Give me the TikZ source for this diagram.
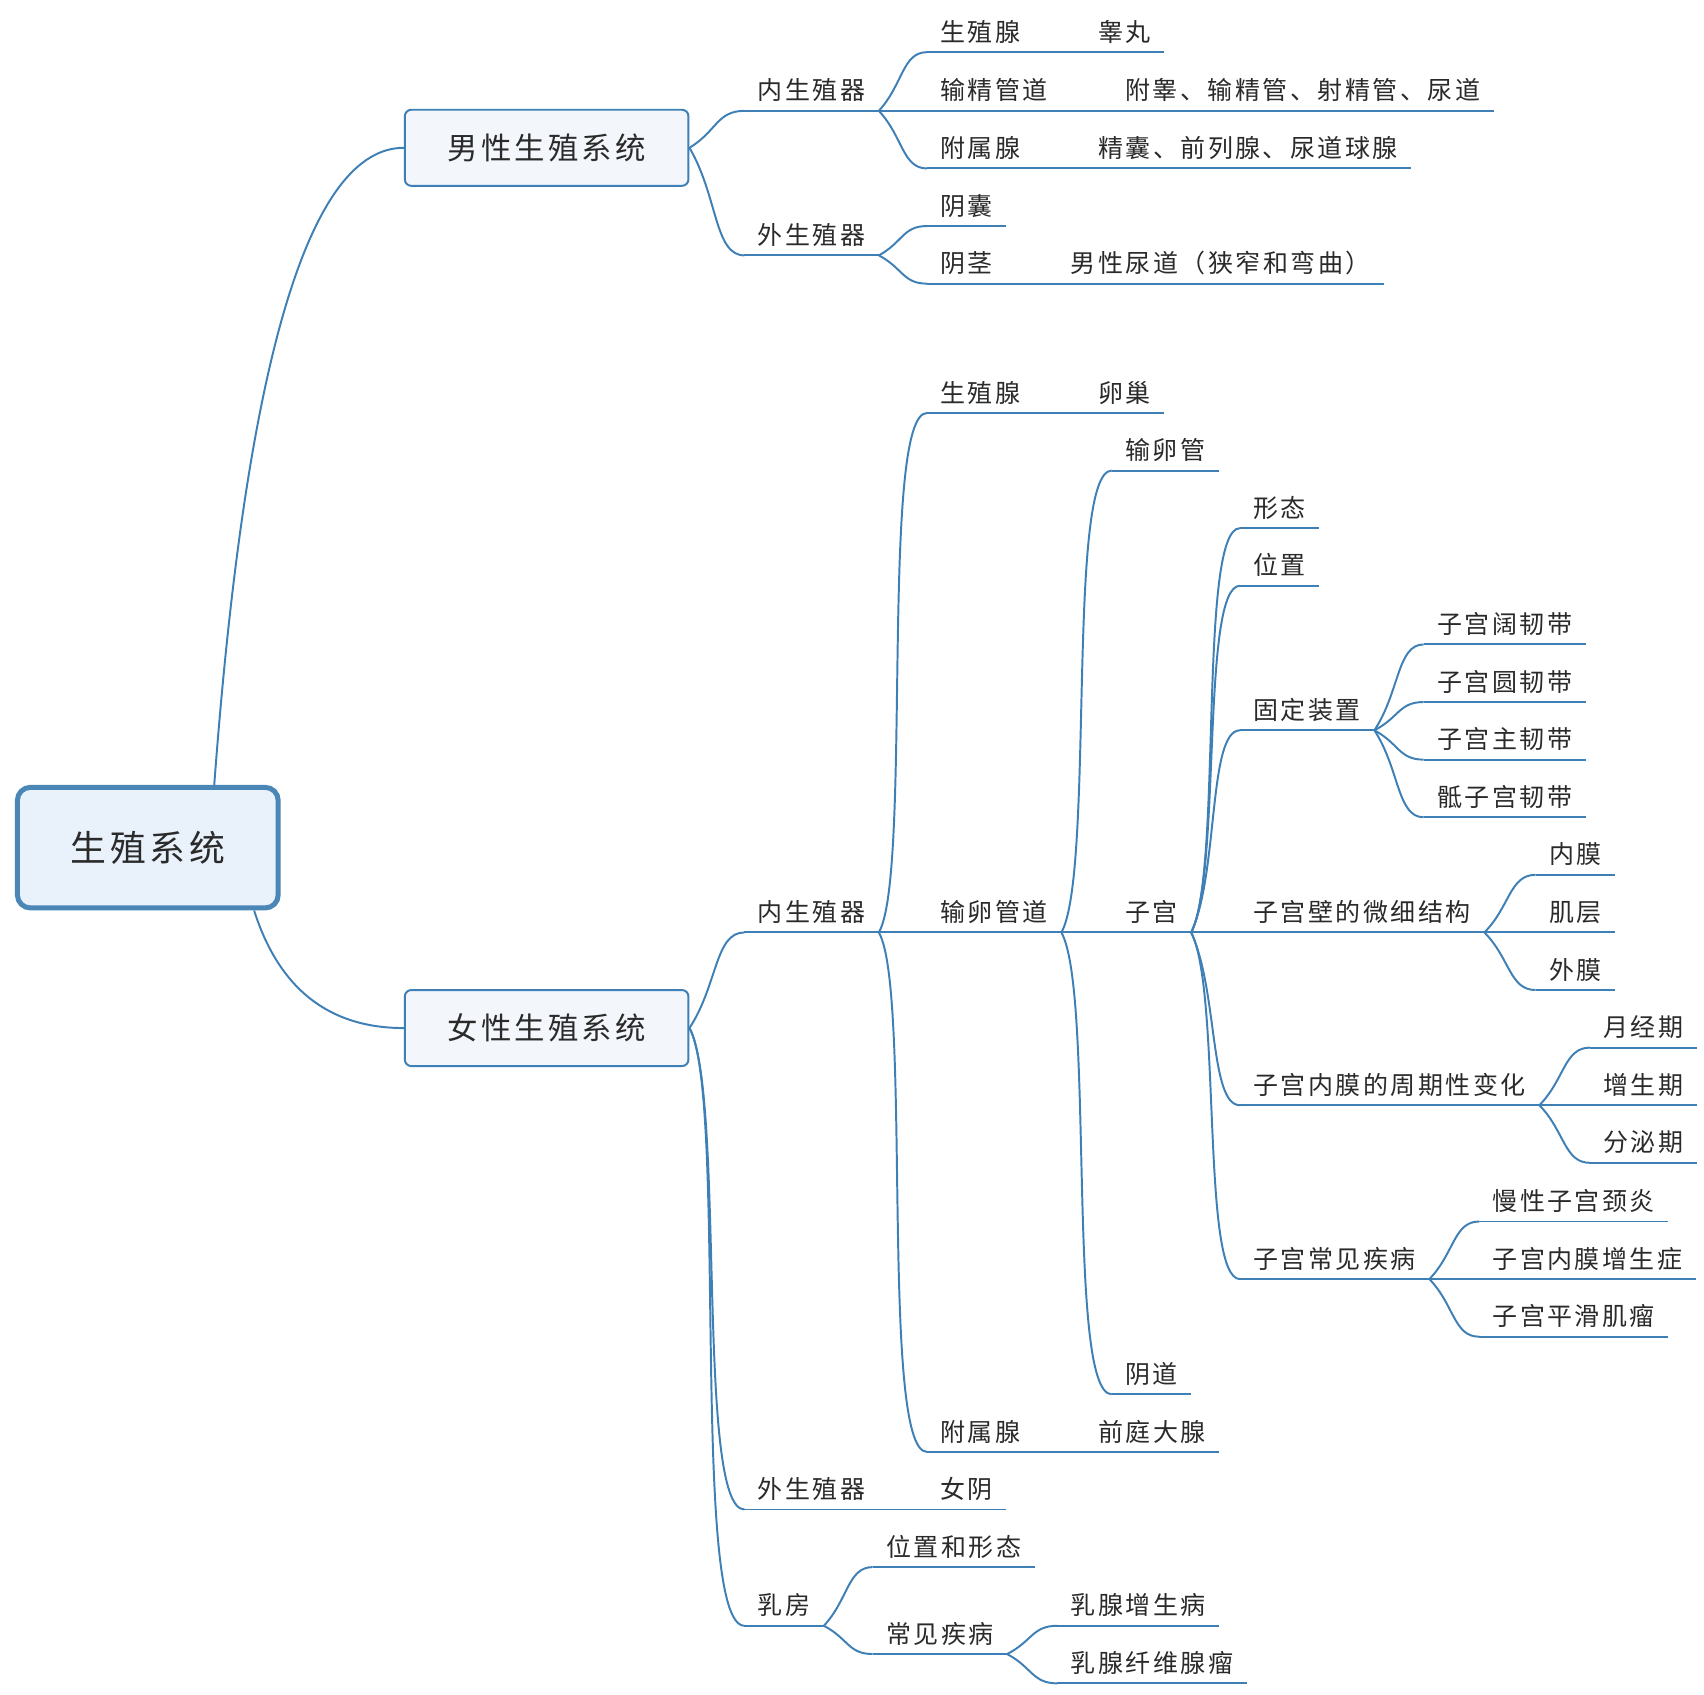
\documentclass[tikz,border=0pt]{standalone}
\usepackage{fontspec}
\setmainfont{Noto Sans CJK SC}[LetterSpace=10]
\usetikzlibrary{calc}

\definecolor{bluramo}{HTML}{3E7FB5}
\definecolor{testo}{HTML}{2A2A2A}
\definecolor{fondoradice}{HTML}{E9F1FB}
\definecolor{bordoradice}{HTML}{4A86B6}
\definecolor{fondosistema}{HTML}{F3F7FC}

\tikzset{
  linea/.style={draw=bluramo, line width=0.9pt},
  voce/.style={anchor=south west, inner xsep=6pt, inner ysep=4.8pt, text depth=0pt,
    font=\fontsize{11.5}{14}\selectfont, text=testo},
  radice/.style={draw=bordoradice, line width=2.3pt, fill=fondoradice, rounded corners=6pt,
    minimum width=120pt, minimum height=55.5pt, font=\fontsize{16.5}{20}\selectfont, text=testo},
  sistema/.style={draw=bluramo, line width=0.9pt, fill=fondosistema, rounded corners=3pt,
    minimum width=130.5pt, minimum height=35pt, font=\fontsize{14}{17}\selectfont, text=testo}
}

% ramo dalla radice: curva larga
\newcommand\tronco[2]{\draw[linea] let \p1=(#1), \p2=(#2) in
  (\p1) .. controls ({\x1+(\x2-\x1)/6},{\y1+2*(\y2-\y1)/3}) and ({(\x1+\x2)/2},\y2) .. (\p2);}
% ramo curvo dal padre al figlio (piu' ripido se il salto e' lungo)
\newcommand\ramo[2]{\draw[linea] let \p1=(#1), \p2=(#2),
  \n1={abs(\y2-\y1)/(abs(\x2-\x1)+0.01)},
  \n2={min(0.45,1.2/(\n1+0.001))},
  \n3={max(0,0.5-0.05*max(0,\n1-1))},
  \n4={min(0.7,0.5+0.02*max(0,\n1-1))} in
  (\p1) .. controls ({\x1+\n4*(\x2-\x1)},{\y1+\n2*(\y2-\y1)})
           and ({\x1+\n3*(\x2-\x1)},\y2) .. (\p2);}

\begin{document}
\begin{tikzpicture}[x=0.5pt, y=-0.5pt]
  \useasboundingbox (0,0) rectangle (1568,1559);

  % radice e sistemi
  \node[radice] (root) at (136,780) {生殖系统};
  \node[sistema] (male) at (503,136) {男性生殖系统};
  \node[sistema] (female) at (503,946) {女性生殖系统};

  % sistema maschile
  \node[voce] (m_in) at (685,102) {内生殖器};
  \node[voce] (m_out) at (685,235) {外生殖器};
  \node[voce] (m_gland) at (853,48) {生殖腺};
  \node[voce] (m_testis) at (998,48) {睾丸};
  \node[voce] (m_duct) at (853,102) {输精管道};
  \node[voce] (m_ductc) at (1023,102) {附睾、输精管、射精管、尿道};
  \node[voce] (m_acc) at (853,155) {附属腺};
  \node[voce] (m_accc) at (998,155) {精囊、前列腺、尿道球腺};
  \node[voce] (m_scrot) at (853,208) {阴囊};
  \node[voce] (m_penis) at (853,261) {阴茎};
  \node[voce] (m_ureth) at (973,261) {男性尿道（狭窄和弯曲）};

  % sistema femminile
  \node[voce] (f_in) at (685,858) {内生殖器};
  \node[voce] (f_out) at (685,1389) {外生殖器};
  \node[voce] (f_vulva) at (853,1389) {女阴};
  \node[voce] (f_breast) at (685,1496) {乳房};
  \node[voce] (f_gland) at (853,380) {生殖腺};
  \node[voce] (f_ovary) at (998,380) {卵巢};
  \node[voce] (f_duct) at (853,858) {输卵管道};
  \node[voce] (f_acc) at (853,1336) {附属腺};
  \node[voce] (f_vest) at (998,1336) {前庭大腺};
  \node[voce] (f_tube) at (1023,433) {输卵管};
  \node[voce] (f_uterus) at (1023,858) {子宫};
  \node[voce] (f_vagina) at (1023,1283) {阴道};

  % utero
  \node[voce] (u_shape) at (1141,486) {形态};
  \node[voce] (u_pos) at (1141,539) {位置};
  \node[voce] (u_fix) at (1141,672) {固定装置};
  \node[voce] (u_wall) at (1141,858) {子宫壁的微细结构};
  \node[voce] (u_cycle) at (1141,1017) {子宫内膜的周期性变化};
  \node[voce] (u_dis) at (1141,1177) {子宫常见疾病};
  \node[voce] (x_broad) at (1310,593) {子宫阔韧带};
  \node[voce] (x_round) at (1310,646) {子宫圆韧带};
  \node[voce] (x_card) at (1310,699) {子宫主韧带};
  \node[voce] (x_sacro) at (1310,752) {骶子宫韧带};
  \node[voce] (w_endo) at (1413,805) {内膜};
  \node[voce] (w_myo) at (1413,858) {肌层};
  \node[voce] (w_sero) at (1413,911) {外膜};
  \node[voce] (c_mens) at (1463,964) {月经期};
  \node[voce] (c_prol) at (1463,1017) {增生期};
  \node[voce] (c_secr) at (1463,1070) {分泌期};
  \node[voce] (d_cerv) at (1361,1124) {慢性子宫颈炎};
  \node[voce] (d_hyper) at (1361,1177) {子宫内膜增生症};
  \node[voce] (d_myoma) at (1361,1230) {子宫平滑肌瘤};

  % mammella
  \node[voce] (b_pos) at (803,1442) {位置和形态};
  \node[voce] (b_dis) at (803,1522) {常见疾病};
  \node[voce] (b_hyper) at (973,1496) {乳腺增生病};
  \node[voce] (b_fibro) at (973,1549) {乳腺纤维腺瘤};

  % sottolineature
  \foreach \n in {m_in,m_out,m_gland,m_testis,m_duct,m_ductc,m_acc,m_accc,m_scrot,m_penis,m_ureth,
    f_in,f_out,f_vulva,f_breast,f_gland,f_ovary,f_duct,f_acc,f_vest,f_tube,f_uterus,f_vagina,
    u_shape,u_pos,u_fix,u_wall,u_cycle,u_dis,x_broad,x_round,x_card,x_sacro,w_endo,w_myo,w_sero,
    c_mens,c_prol,c_secr,d_cerv,d_hyper,d_myoma,b_pos,b_dis,b_hyper,b_fibro}
    \draw[linea] (\n.south west) -- (\n.south east);

  % rami
  \tronco{$(root.north west)!0.75!(root.north east)$}{male.west}
  \tronco{$(root.south west)!0.9!(root.south east)$}{female.west}
  \foreach \b in {m_in,m_out} \ramo{male.east}{\b.south west};
  \foreach \b in {f_in,f_out,f_breast} \ramo{female.east}{\b.south west};
  \foreach \a/\b in {m_in/m_gland,m_in/m_duct,m_in/m_acc,m_gland/m_testis,m_duct/m_ductc,m_acc/m_accc,
    m_out/m_scrot,m_out/m_penis,m_penis/m_ureth,
    f_in/f_gland,f_in/f_duct,f_in/f_acc,f_gland/f_ovary,f_acc/f_vest,f_out/f_vulva,
    f_duct/f_tube,f_duct/f_uterus,f_duct/f_vagina,
    f_uterus/u_shape,f_uterus/u_pos,f_uterus/u_fix,f_uterus/u_wall,f_uterus/u_cycle,f_uterus/u_dis,
    u_fix/x_broad,u_fix/x_round,u_fix/x_card,u_fix/x_sacro,
    u_wall/w_endo,u_wall/w_myo,u_wall/w_sero,
    u_cycle/c_mens,u_cycle/c_prol,u_cycle/c_secr,
    u_dis/d_cerv,u_dis/d_hyper,u_dis/d_myoma,
    f_breast/b_pos,f_breast/b_dis,b_dis/b_hyper,b_dis/b_fibro}
    \ramo{\a.south east}{\b.south west};
\end{tikzpicture}
\end{document}
